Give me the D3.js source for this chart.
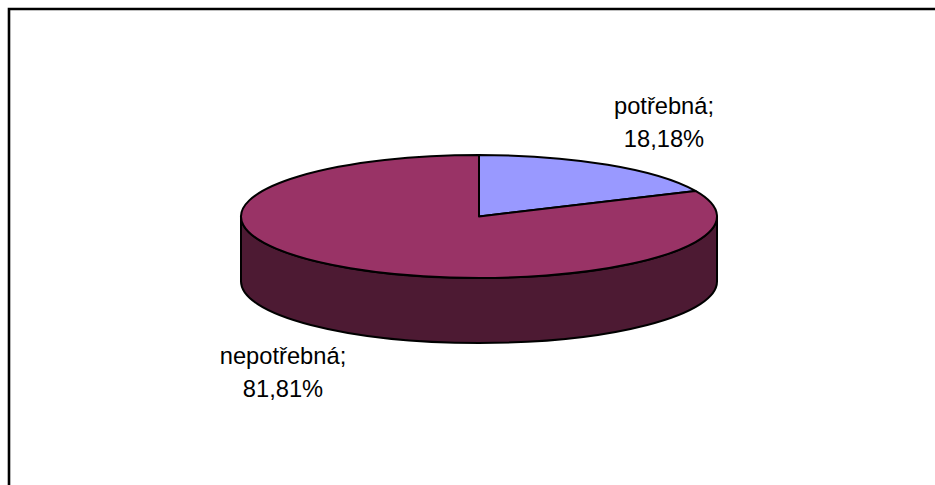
<!DOCTYPE html>
<html lang="cs">

<head>
    <meta charset="UTF-8">
    <title>Pie</title>
    <script src="https://cdn.jsdelivr.net/npm/d3@7"></script>
    <style>
        html, body { margin: 0; padding: 0; background: #fff; overflow: hidden; }
        svg { display: block; }
        text { font-family: "Liberation Sans", Arial, sans-serif; font-size: 23.7px; fill: #000; }
    </style>
</head>

<body>
    <svg width="935" height="485"></svg>
    <script>
        var categories = ['potřebná', 'nepotřebná'];
        var values = [18.18, 81.81];
        var valueLabels = ['18,18%', '81,81%'];
        var colors = ['#9999ff', '#993366'];

        var svg = d3.select('svg');
        var cx = 479, cy = 216.5, rx = 238, ry = 61.5, depth = 65;

        // frame, only top and left are visible, the rest is cut off
        svg.append('path')
            .attr('d', 'M9,485V9H935')
            .attr('fill', 'none')
            .attr('stroke', '#000')
            .attr('stroke-width', 2.6);

        var pie = d3.pie().sort(null).value(function (d) { return d; });
        var arc = d3.arc().innerRadius(0).outerRadius(rx);
        var squash = 'scale(1,' + (ry / rx) + ')';

        // side wall of the disc
        var side = d3.path();
        side.moveTo(-rx, 0);
        side.lineTo(-rx, depth * rx / ry);
        side.arc(0, depth * rx / ry, rx, Math.PI, 0, true);
        side.lineTo(rx, 0);
        side.arc(0, 0, rx, 0, Math.PI, false);
        side.closePath();

        var g = svg.append('g').attr('transform', 'translate(' + cx + ',' + cy + ') ' + squash);

        g.append('path')
            .attr('d', side.toString())
            .attr('fill', '#4d1a33')
            .attr('stroke', '#000')
            .attr('stroke-width', 2)
            .attr('vector-effect', 'non-scaling-stroke');

        // top face
        g.selectAll('path.slice')
            .data(pie(values))
            .enter()
            .append('path')
            .attr('class', 'slice')
            .attr('d', arc)
            .attr('fill', function (d, i) { return colors[i]; })
            .attr('stroke', '#000')
            .attr('stroke-width', 2)
            .attr('stroke-linejoin', 'round')
            .attr('vector-effect', 'non-scaling-stroke');

        var labelPos = [[664, 114], [283, 364]];
        var labels = svg.selectAll('text.lab')
            .data(categories)
            .enter()
            .append('text')
            .attr('class', 'lab')
            .attr('text-anchor', 'middle')
            .attr('x', function (d, i) { return labelPos[i][0]; })
            .attr('y', function (d, i) { return labelPos[i][1]; });
        labels.append('tspan').text(function (d) { return d + ';'; });
        labels.append('tspan')
            .attr('x', function (d, i) { return labelPos[i][0]; })
            .attr('dy', 33)
            .text(function (d, i) { return valueLabels[i]; });
    </script>
</body>

</html>
